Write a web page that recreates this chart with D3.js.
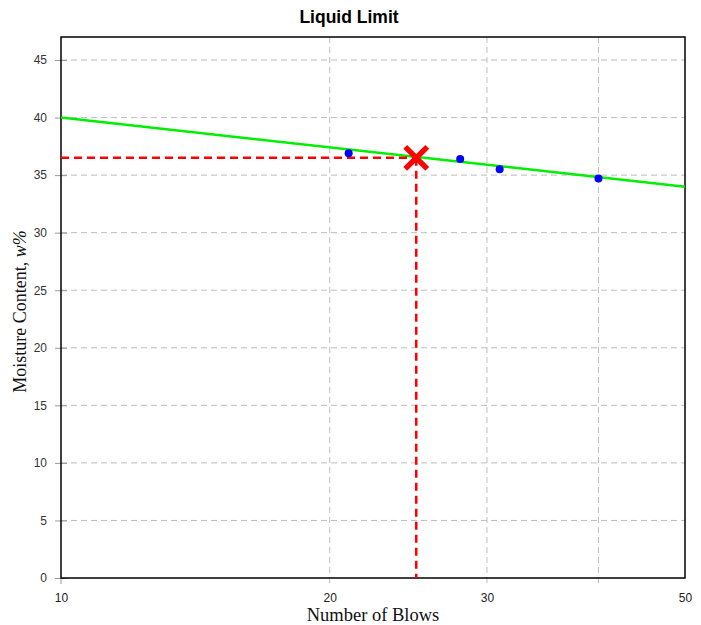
<!DOCTYPE html>
<html><head><meta charset="utf-8">
<script src="https://cdn.jsdelivr.net/npm/d3@7"></script>
<style>body{margin:0;background:#fff}svg{display:block}</style>
</head><body>
<svg id="chart" width="701" height="625"></svg>
<script>
const blows = [21, 28, 31, 40];
const moisture = [36.9, 36.4, 35.5, 34.7];
const fitBlows = [10, 50];
const fitMoisture = [40.0, 34.0];
const llBlows = 25;
const llMoisture = 36.5;
const xTicks = [10, 20, 30, 50];
const xGrid = [20, 30, 40];
const yTicks = [0, 5, 10, 15, 20, 25, 30, 35, 40, 45];

const svg = d3.select("#chart");
const m = {l: 61, r: 685, t: 37, b: 578};
const x = d3.scaleLog().domain([10, 50]).range([m.l, m.r]);
const y = d3.scaleLinear().domain([0, 47]).range([m.b, m.t]);

// gridlines
svg.append("g").selectAll("line").data(yTicks.filter(d => d > 0)).join("line")
  .attr("x1", m.l).attr("x2", m.r).attr("y1", d => y(d)).attr("y2", d => y(d))
  .attr("stroke", "#bdbdbd").attr("stroke-width", 1).attr("stroke-dasharray", "6,4");
svg.append("g").selectAll("line").data(xGrid).join("line")
  .attr("x1", d => x(d)).attr("x2", d => x(d)).attr("y1", m.t).attr("y2", m.b + 5)
  .attr("stroke", "#bdbdbd").attr("stroke-width", 1).attr("stroke-dasharray", "6,4");

// y axis
const yAxis = svg.append("g").attr("transform", `translate(${m.l},0)`)
  .call(d3.axisLeft(y).tickValues(yTicks).tickSize(6).tickFormat(d3.format("d")));
yAxis.select(".domain").remove();
yAxis.selectAll(".tick line").attr("x1", -6).attr("x2", 6).attr("stroke", "#999");
yAxis.selectAll(".tick text").attr("x", -14).attr("font-family", "Liberation Sans, Arial, sans-serif")
  .attr("font-size", 12).attr("fill", "#333");

// x axis
const xAxis = svg.append("g").attr("transform", `translate(0,${m.b})`)
  .call(d3.axisBottom(x).tickValues(xTicks).tickSize(0).tickFormat(d3.format("d")));
xAxis.select(".domain").remove();
xAxis.selectAll(".tick text").attr("y", 15).attr("font-family", "Liberation Sans, Arial, sans-serif")
  .attr("font-size", 12).attr("fill", "#222");
svg.append("line").attr("x1", x(10)).attr("x2", x(10)).attr("y1", m.b).attr("y2", m.b + 6).attr("stroke", "#999");

// frame
svg.append("rect").attr("x", m.l).attr("y", m.t).attr("width", m.r - m.l).attr("height", m.b - m.t)
  .attr("fill", "none").attr("stroke", "#000").attr("stroke-width", 1.5);

// fit line
const line = d3.line().x(d => x(d[0])).y(d => y(d[1]));
svg.append("path").datum(fitBlows.map((b, i) => [b, fitMoisture[i]]))
  .attr("d", line).attr("fill", "none").attr("stroke", "#00ee00").attr("stroke-width", 2.5);

// LL dashed lines
svg.append("line").attr("x1", x(10)).attr("x2", x(llBlows)).attr("y1", y(llMoisture)).attr("y2", y(llMoisture))
  .attr("stroke", "#ff0000").attr("stroke-width", 2.5).attr("stroke-dasharray", "8,5");
svg.append("line").attr("x1", x(llBlows)).attr("x2", x(llBlows)).attr("y1", y(llMoisture)).attr("y2", y(0))
  .attr("stroke", "#ff0000").attr("stroke-width", 2.5).attr("stroke-dasharray", "8,5");

// points
svg.append("g").selectAll("circle").data(blows.map((b, i) => [b, moisture[i]])).join("circle")
  .attr("cx", d => x(d[0])).attr("cy", d => y(d[1])).attr("r", 4).attr("fill", "#0000ff");

// LL marker
const cx = x(llBlows), cy = y(llMoisture), s = 11;
const mk = svg.append("g").attr("stroke", "#ff0000").attr("stroke-width", 5.5);
mk.append("line").attr("x1", cx - s).attr("y1", cy - s).attr("x2", cx + s).attr("y2", cy + s);
mk.append("line").attr("x1", cx - s).attr("y1", cy + s).attr("x2", cx + s).attr("y2", cy - s);

// title
svg.append("text").attr("x", 349).attr("y", 23).attr("text-anchor", "middle")
  .attr("font-family", "Liberation Sans, Arial, sans-serif").attr("font-weight", "bold").attr("font-size", 17.5)
  .text("Liquid Limit");
// x label
svg.append("text").attr("x", 373).attr("y", 621).attr("text-anchor", "middle")
  .attr("font-family", "Liberation Serif, Times New Roman, serif").attr("font-size", 18.5).attr("fill", "#111")
  .text("Number of Blows");
// y label
const yl = svg.append("text").attr("transform", `translate(26,${(m.t + m.b) / 2 + 4}) rotate(-90)`)
  .attr("text-anchor", "middle").attr("font-family", "Liberation Serif, Times New Roman, serif")
  .attr("font-size", 18).attr("fill", "#111");
yl.append("tspan").text("Moisture Content, ");
yl.append("tspan").attr("font-style", "italic").text("w%");
</script>
</body></html>
